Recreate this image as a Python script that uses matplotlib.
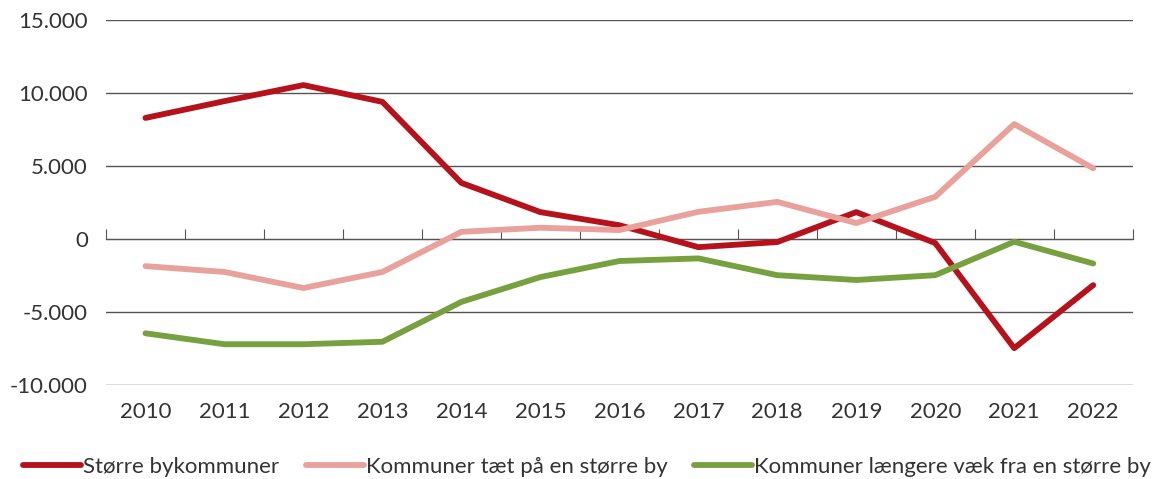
import matplotlib.pyplot as plt
from matplotlib.ticker import FuncFormatter, FixedLocator

plt.rcParams['font.family'] = ['Lato', 'DejaVu Sans']

years = ['2010', '2011', '2012', '2013', '2014', '2015', '2016',
         '2017', '2018', '2019', '2020', '2021', '2022']
storre_by = [8300, 9450, 10550, 9400, 3850, 1850, 950,
             -550, -200, 1850, -270, -7470, -3150]
taet_paa = [-1850, -2250, -3350, -2250, 500, 780, 620,
            1870, 2550, 1100, 2900, 7880, 4850]
laengere_vaek = [-6450, -7200, -7200, -7030, -4300, -2600, -1500,
                 -1320, -2470, -2800, -2470, -180, -1670]

labels = ['Større bykommuner', 'Kommuner tæt på en større by',
          'Kommuner længere væk fra en større by']
colors = ['#b5121b', '#e8a19b', '#77a03f']

fig = plt.figure(figsize=(11.57, 4.79), dpi=100)
ax = fig.add_axes([0.0916, 0.196, 0.8874, 0.762])

x = list(range(len(years)))
for vals, lab, col in zip([storre_by, taet_paa, laengere_vaek], labels, colors):
    ax.plot(x, vals, color=col, lw=4.2, label=lab, solid_capstyle='round',
            solid_joinstyle='round')

ax.set_xlim(-0.5, len(years) - 0.5)
ax.set_ylim(-10000, 15000)
ax.set_yticks([-10000, -5000, 0, 5000, 10000, 15000])
ax.yaxis.set_major_formatter(FuncFormatter(
    lambda v, p: f'{int(v):,}'.replace(',', '.')))
ax.grid(axis='y', color='#555555', lw=1)
ax.set_axisbelow(True)
for s in ax.spines.values():
    s.set_visible(False)
ax.tick_params(axis='y', length=0, pad=13, labelsize=16, labelcolor='#333333')
ax.set_xticks(x)
ax.set_xticklabels(years)
ax.tick_params(axis='x', length=0, pad=12, labelsize=16, labelcolor='#333333')

# tick marks between categories on the zero line
sec = ax.secondary_xaxis(0.4)
sec.xaxis.set_major_locator(FixedLocator([i - 0.5 for i in range(len(years) + 1)]))
sec.tick_params(direction='in', length=7, color='#555555', labelbottom=False)
sec.spines['bottom'].set_color('#555555')
sec.set_xticklabels([])

fig.legend(loc='center left', bbox_to_anchor=(0.02, 0.025), ncol=3, frameon=False,
           fontsize=16, handlelength=2.6, handletextpad=0.1, columnspacing=1.2,
           borderpad=0, borderaxespad=0, labelcolor='#333333')

plt.savefig('out.png')
plt.close()
